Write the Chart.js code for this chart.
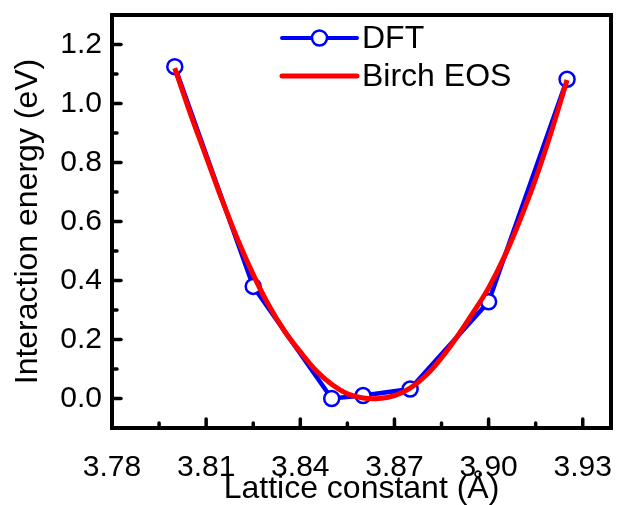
<!DOCTYPE html>
<html>
<head>
<meta charset="utf-8">
<script src="https://cdn.jsdelivr.net/npm/chart.js@4.4.1/dist/chart.umd.min.js"></script>
<style>
  html, body { margin:0; padding:0; background:#fff; }
  #wrap { width:621px; height:505px; }
</style>
</head>
<body>
<div id="wrap"><canvas id="c"></canvas></div>
<script>
// ── Data ─────────────────────────────────────
const dftX = [3.800, 3.825, 3.850, 3.860, 3.875, 3.900, 3.925];
const dftY = [1.125, 0.380, 0.000, 0.010, 0.032, 0.328, 1.082];

const eosX = [3.800, 3.805, 3.810, 3.815, 3.820, 3.825, 3.830, 3.835, 3.840, 3.845, 3.850, 3.855, 3.860,
              3.865, 3.870, 3.875, 3.880, 3.885, 3.890, 3.895, 3.900, 3.905, 3.910, 3.915, 3.920, 3.925];
const eosY = [1.120, 0.965, 0.820, 0.675, 0.540, 0.420, 0.315, 0.228, 0.158, 0.095, 0.048, 0.016, 0.002,
              0.000, 0.010, 0.035, 0.078, 0.138, 0.210, 0.290, 0.375, 0.480, 0.605, 0.745, 0.905, 1.080];

const xTicks = [3.78, 3.81, 3.84, 3.87, 3.90, 3.93];
const xMinor = [3.795, 3.825, 3.855, 3.885, 3.915];
const yTicks = [0.0, 0.2, 0.4, 0.6, 0.8, 1.0, 1.2];
const yMinor = [0.1, 0.3, 0.5, 0.7, 0.9, 1.1];

const font = "'Liberation Sans', Arial, sans-serif";
const BLUE = '#0000ff', RED = '#ff0000';

// ── Frame, inward ticks, legend ──────────────
const frame = {
  id: 'frame',
  afterDraw(chart) {
    const { ctx, chartArea: a, scales: { x, y } } = chart;
    ctx.save();
    ctx.strokeStyle = '#000';
    ctx.lineCap = 'round';
    ctx.lineWidth = 3.5;
    const xt = (v, len) => { const px = x.getPixelForValue(v); ctx.beginPath(); ctx.moveTo(px, a.bottom); ctx.lineTo(px, a.bottom - len); ctx.stroke(); };
    const yt = (v, len) => { const py = y.getPixelForValue(v); ctx.beginPath(); ctx.moveTo(a.left, py); ctx.lineTo(a.left + len, py); ctx.stroke(); };
    xTicks.forEach(v => xt(v, 9)); xMinor.forEach(v => xt(v, 5));
    yTicks.forEach(v => yt(v, 9)); yMinor.forEach(v => yt(v, 5));
    ctx.lineCap = 'butt';
    ctx.lineWidth = 4;
    ctx.strokeRect(a.left, a.top, a.right - a.left, a.bottom - a.top);

    // legend
    const lx0 = a.left + 170, lx1 = a.left + 245, tx = a.left + 250;
    const r1 = a.top + 23, r2 = a.top + 61;
    ctx.lineCap = 'round';
    ctx.strokeStyle = BLUE; ctx.lineWidth = 4;
    ctx.beginPath(); ctx.moveTo(lx0, r1); ctx.lineTo(lx1, r1); ctx.stroke();
    ctx.fillStyle = '#fff'; ctx.lineWidth = 2.5;
    ctx.beginPath(); ctx.arc((lx0 + lx1) / 2, r1, 7.5, 0, Math.PI * 2); ctx.fill(); ctx.stroke();
    ctx.strokeStyle = RED; ctx.lineWidth = 5;
    ctx.beginPath(); ctx.moveTo(lx0, r2); ctx.lineTo(lx1, r2); ctx.stroke();
    ctx.fillStyle = '#000';
    ctx.font = `32px ${font}`;
    ctx.textBaseline = 'middle';
    ctx.fillText('DFT', tx, r1 + 1);
    ctx.fillText('Birch EOS', tx, r2 + 1);
    ctx.restore();
  }
};

// ── Chart ────────────────────────────────────
new Chart(document.getElementById('c'), {
  type: 'line',
  data: {
    datasets: [
      { label: 'Birch EOS', data: eosX.map((v, i) => ({ x: v, y: eosY[i] })),
        borderColor: RED, borderWidth: 5, pointRadius: 0, tension: 0.4, fill: false },
      { label: 'DFT', data: dftX.map((v, i) => ({ x: v, y: dftY[i] })),
        borderColor: BLUE, borderWidth: 4.5, pointRadius: 7.5, pointBorderWidth: 2.5,
        pointBackgroundColor: '#fff', pointBorderColor: BLUE, tension: 0, fill: false }
    ]
  },
  options: {
    responsive: true, maintainAspectRatio: false, animation: false,
    layout: { padding: { top: 15, right: 5, left: 0, bottom: 0 } },
    plugins: { legend: { display: false }, tooltip: { enabled: false } },
    scales: {
      x: {
        type: 'linear', min: 3.78, max: 3.939,
        afterBuildTicks: s => { s.ticks = xTicks.map(v => ({ value: v })); },
        afterFit: s => { s.height = 77; s.paddingLeft = 0; s.paddingRight = 0; },
        grid: { display: false, drawTicks: false },
        border: { display: false },
        ticks: { color: '#000', padding: 22, maxRotation: 0, autoSkip: false,
          font: { family: font, size: 30 }, callback: v => v.toFixed(2) },
        title: { display: true, text: 'Lattice constant (Å)', color: '#000',
          font: { family: font, size: 32, lineHeight: 1 }, padding: { top: 0, bottom: 0 } }
      },
      y: {
        min: -0.1, max: 1.3,
        afterBuildTicks: s => { s.ticks = yTicks.map(v => ({ value: v })); },
        afterFit: s => { s.width = 112; s.paddingTop = 0; s.paddingBottom = 0; },
        grid: { display: false, drawTicks: false },
        border: { display: false },
        ticks: { color: '#000', padding: 10, autoSkip: false,
          font: { family: font, size: 30 }, callback: v => v.toFixed(1) },
        title: { display: true, text: 'Interaction energy (eV)', color: '#000',
          font: { family: font, size: 32, lineHeight: 1 }, padding: { top: 12, bottom: 0 } }
      }
    }
  },
  plugins: [frame]
});
</script>
</body>
</html>
